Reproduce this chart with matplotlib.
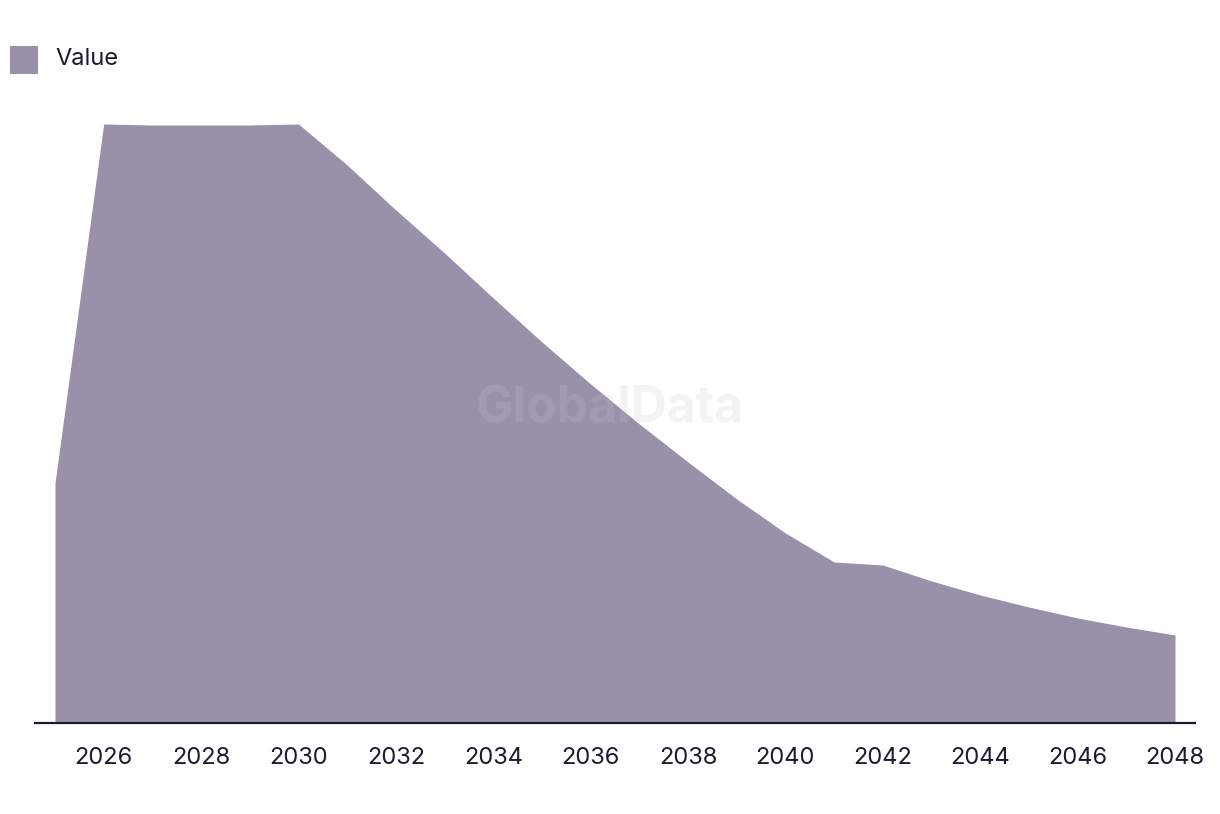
import matplotlib
matplotlib.use("Agg")
import matplotlib.pyplot as plt
from matplotlib.patches import Rectangle

years = list(range(2025, 2049))
values = [24.0, 59.9, 59.8, 59.8, 59.8, 59.9, 55.8, 51.3, 47.0, 42.5, 38.1, 33.9,
          29.9, 26.1, 22.4, 19.0, 16.1, 15.8, 14.2, 12.8, 11.6, 10.5, 9.6, 8.8]
tick_years = list(range(2026, 2049, 2))
series_name = "Value"

fill_color = "#9990aa"
text_color = "#1c1a2e"

plt.rcParams['font.family'] = ['Inter', 'DejaVu Sans']

fig = plt.figure(figsize=(12.2, 8.14), dpi=100)
W, H = 1220, 814
ax_left, ax_right = 35, 1195
ax_bottom, ax_top = 723, 100
ax = fig.add_axes([ax_left / W, (H - ax_bottom) / H, (ax_right - ax_left) / W, (ax_bottom - ax_top) / H])

ax.fill_between(years, values, 0, color=fill_color, linewidth=0)
px_per_year = (1175 - 55) / 23
ax.set_xlim(2025 - 20 / px_per_year, 2048 + 20 / px_per_year)
ax.set_ylim(0, 59.9 * (ax_bottom - ax_top) / 599)

for s in ['top', 'right', 'left']:
    ax.spines[s].set_visible(False)
ax.spines['bottom'].set_color(text_color)
ax.spines['bottom'].set_linewidth(1.6)
ax.set_yticks([])
ax.set_xticks(tick_years)
ax.set_xticklabels([str(y) for y in tick_years], fontsize=17, color=text_color)
ax.tick_params(axis='x', length=0, pad=17)

# watermark
fig.text(610 / W, 1 - 409 / H, "GlobalData", fontsize=36, fontweight='bold',
         color='#c8c6cc', alpha=0.2, ha='center', va='center')

# legend
fig.patches.append(Rectangle((10 / W, 1 - 74 / H), 28 / W, 28 / H, transform=fig.transFigure,
                             facecolor=fill_color, edgecolor='none'))
fig.text(55 / W, 1 - 59 / H, series_name, fontsize=17, color=text_color, ha='left', va='center')

fig.savefig("out.png", dpi=100)
